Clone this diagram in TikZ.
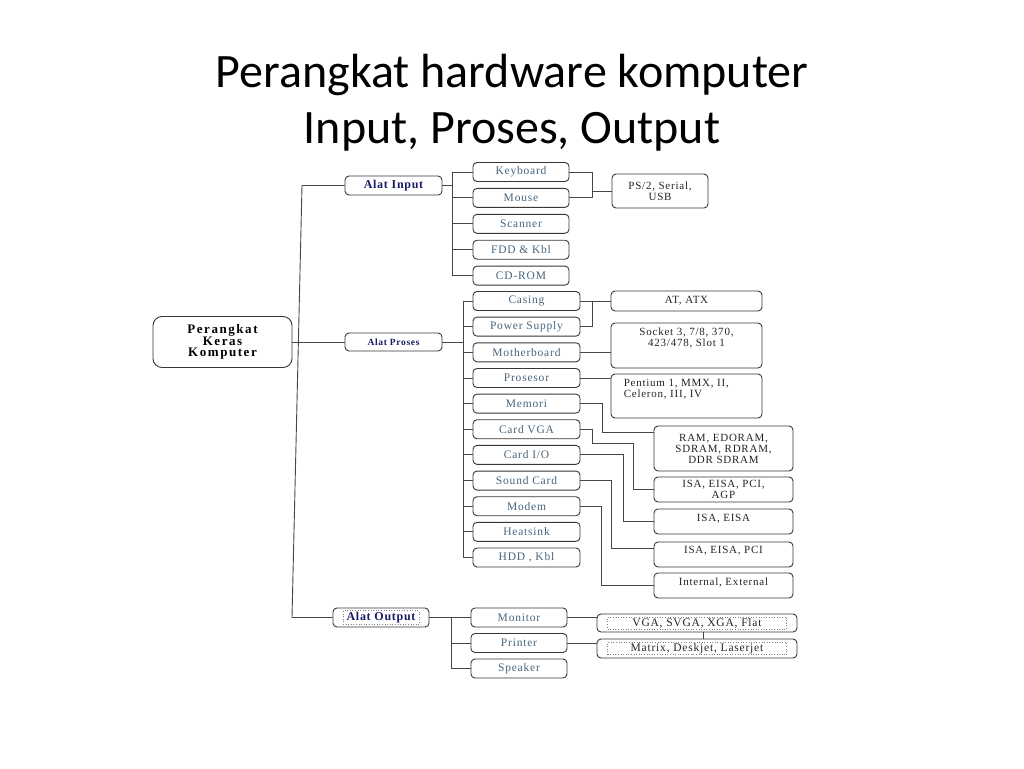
\documentclass[tikz,border=0pt]{standalone}
\usepackage{fontspec}
\usepackage{tikz}
\newfontfamily\titlefont{Carlito}
\newfontfamily\boxfont[LetterSpace=7]{Liberation Serif}
\newfontfamily\headfont[LetterSpace=6]{Liberation Serif}
\newfontfamily\rootfont[LetterSpace=12]{Liberation Serif}
\definecolor{itemblue}{RGB}{70,100,125}
\definecolor{headnavy}{RGB}{25,25,105}
\definecolor{infogray}{RGB}{35,35,35}
\definecolor{boxgray}{RGB}{55,55,55}
\definecolor{linegray}{RGB}{70,70,70}

\begin{document}
\begin{tikzpicture}[x=1pt,y=-1pt,
    box/.style={draw=boxgray,rounded corners=4pt,line width=0.9pt,inner sep=0pt,align=center},
    head/.style={box,minimum height=19pt,text=headnavy,font=\headfont\bfseries\fontsize{12}{12}\selectfont},
    item/.style={box,minimum height=19pt,text=itemblue,font=\boxfont\fontsize{11.5}{11}\selectfont},
    info/.style={box,text=infogray,font=\boxfont\fontsize{11}{11}\selectfont},
    txt/.style={inner sep=0pt,align=center,text=infogray,font=\boxfont\fontsize{11}{11}\selectfont},
    dotframe/.style={draw=gray,dotted,line width=0.6pt,inner sep=1pt},
    link/.style={draw=linegray,line width=0.9pt}]
    \useasboundingbox (0,0) rectangle (1024,768);
    \node[anchor=base,font=\titlefont\fontsize{48}{56}\selectfont] (title1) at (512,87){Perangkat hardware komputer};
    \node[anchor=base,font=\titlefont\fontsize{48}{56}\selectfont] (title2) at (512,143){Input, Proses, Output};

    \node[box,rounded corners=9pt,minimum width=139pt,minimum height=51pt,font=\rootfont\bfseries\fontsize{13}{11.5}\selectfont] (root) at (222.5,342){Perangkat\\Keras\\Komputer};
    \node[head,minimum width=97pt] (ain) at (393.5,185.5){Alat Input};
    \node[head,minimum width=97pt,minimum height=18pt,font=\boxfont\bfseries\fontsize{9.5}{9}\selectfont] (apro) at (393.5,342){Alat Proses};
    \node[box,minimum width=96pt,minimum height=19pt] (aout) at (381,617.5){};
    \node[dotframe,minimum width=76pt,minimum height=14pt,text=headnavy,font=\headfont\bfseries\fontsize{12}{12}\selectfont] (aouttxt) at (aout){Alat Output};

    \foreach \n/\t [count=\i from 0] in {kb/Keyboard,ms/Mouse,sc/Scanner,fdd/FDD \& Kbl,cd/CD-ROM}
        \node[item,minimum width=96pt] (\n) at (521,{172+25.9*\i}){\t};
    \foreach \n/\t [count=\i from 0] in {cas/Casing,psu/Power Supply,mb/Motherboard,pro/Prosesor,mem/Memori,vga/Card VGA,cio/{Card I/O},snd/Sound Card,mod/Modem,hs/Heatsink,hdd/{HDD , Kbl}}
        \node[item,minimum width=107pt] (\n) at (526.5,{301+25.65*\i}){\t};
    \foreach \n/\t [count=\i from 0] in {mon/Monitor,prn/Printer,spk/Speaker}
        \node[item,minimum width=96pt] (\n) at (519,{617.5+25.5*\i}){\t};

    \node[info,minimum width=96pt,minimum height=34pt] (ps2) at (660,191){PS/2, Serial,\\USB};
    \node[info,minimum width=151pt,minimum height=20pt] (atx) at (686.5,301){AT, ATX};
    \node[box,minimum width=151pt,minimum height=45pt] (sock) at (686.5,345.5){};
    \node[txt,below=5pt] (socktxt) at (sock.north){Socket 3, 7/8, 370,\\423/478, Slot 1};
    \node[box,minimum width=151pt,minimum height=44pt] (pent) at (686.5,396){};
    \node[txt,align=left,anchor=north west] (penttxt) at ([xshift=13pt,yshift=-5pt]pent.north west){Pentium 1, MMX, II,\\Celeron, III, IV};
    \node[info,minimum width=139pt,minimum height=45pt] (ram) at (723.5,448.5){RAM, EDORAM,\\SDRAM, RDRAM,\\DDR SDRAM};
    \node[info,minimum width=139pt,minimum height=25pt] (agp) at (723.5,489.5){ISA, EISA, PCI,\\AGP};
    \node[box,minimum width=139pt,minimum height=25pt] (isa) at (723.5,521.5){};
    \node[txt,below=5pt] (isatxt) at (isa.north){ISA, EISA};
    \node[box,minimum width=139pt,minimum height=25pt] (pci) at (723.5,554.5){};
    \node[txt,below=4pt] (pcitxt) at (pci.north){ISA, EISA, PCI};
    \node[box,minimum width=139pt,minimum height=25pt] (intl) at (723.5,585.5){};
    \node[txt,below=5pt] (intltxt) at (intl.north){Internal, External};
    \node[box,minimum width=200pt,minimum height=18pt] (vgab) at (697,623){};
    \node[dotframe,minimum width=179pt,minimum height=12pt,text=infogray,font=\boxfont\fontsize{11.5}{11}\selectfont] (vgatxt) at (vgab){VGA, SVGA, XGA, Flat};
    \node[box,minimum width=200pt,minimum height=19pt] (mat) at (697,648.5){};
    \node[dotframe,minimum width=179pt,minimum height=12pt,text=infogray,font=\boxfont\fontsize{11.5}{11}\selectfont] (mattxt) at (mat){Matrix, Deskjet, Laserjet};

    \coordinate (tt) at (302,185.5);
    \coordinate (tb) at (292,617.5);
    \draw[link](ain.west)--(tt)--(tb)--(aout.west);
    \draw[link](root.east)--(root.east -| apro.west);

    \coordinate (ibus) at (452,185.5);
    \draw[link](ain.east)--(ibus);
    \draw[link](kb.west -| ibus)--(cd.west -| ibus);
    \foreach \n in {kb,ms,sc,fdd,cd}\draw[link](\n.west)--(\n.west -| ibus);
    \coordinate (kj) at (592,191);
    \draw[link](kb.east)-|(kj)|-(ms.east);
    \draw[link](kj)--(ps2.west);

    \coordinate (pbus) at (463,342);
    \draw[link](apro.east)--(pbus);
    \draw[link](cas.west -| pbus)--(hdd.west -| pbus);
    \foreach \n in {cas,psu,mb,pro,mem,vga,cio,snd,mod,hs,hdd}\draw[link](\n.west)--(\n.west -| pbus);
    \coordinate (cj) at (592,301);
    \draw[link](cas.east)--(atx.west);
    \draw[link](psu.east)-|(cj);
    \draw[link](mb.east)--(mb.east -| sock.west);
    \draw[link](pro.east)--(pro.east -| pent.west);
    \coordinate (m1) at (602,432);
    \draw[link](mem.east)-|(m1)--(m1 -| ram.west);
    \coordinate (v1) at (592,443);
    \coordinate (v2) at (633,443);
    \draw[link](vga.east)-|(v1)--(v2)|-(agp.west);
    \coordinate (c1) at (623,521.5);
    \draw[link](cio.east)-|(c1)--(isa.west);
    \coordinate (s1) at (611,548);
    \draw[link](snd.east)-|(s1)--(s1 -| pci.west);
    \coordinate (d1) at (601,585.5);
    \draw[link](mod.east)-|(d1)--(intl.west);

    \coordinate (obus) at (451,617.5);
    \draw[link](aout.east)--(obus);
    \draw[link](mon.west -| obus)--(spk.west -| obus);
    \foreach \n in {mon,prn,spk}\draw[link](\n.west)--(\n.west -| obus);
    \draw[link](mon.east)--(mon.east -| vgab.west);
    \draw[link](prn.east)--(prn.east -| mat.west);
    \draw[link]([xshift=6pt]vgab.south)--([xshift=6pt]mat.north);
\end{tikzpicture}
\end{document}
